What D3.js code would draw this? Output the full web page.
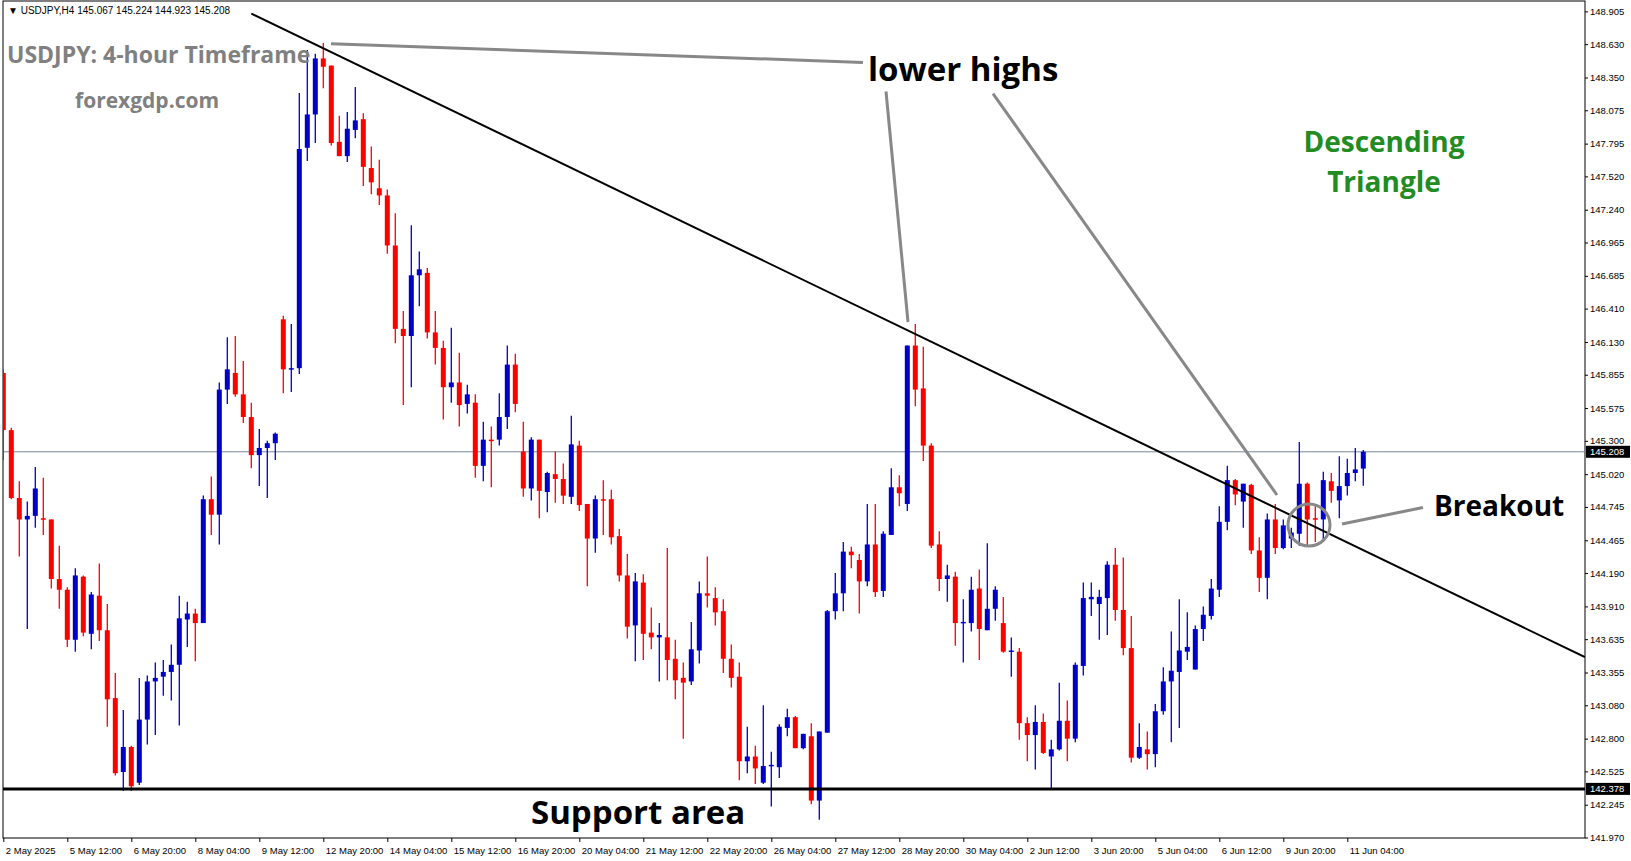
<!DOCTYPE html>
<html><head><meta charset="utf-8">
<script src="https://cdn.jsdelivr.net/npm/d3@7/dist/d3.min.js"></script>
<style>body{margin:0;background:#fff}svg{display:block}</style>
</head><body><svg id="c" width="1631" height="861"></svg>
<script>
const opens=[145.87,145.39,144.82,144.64,144.67,144.65,144.64,144.14,144.05,143.63,144.16,143.68,144.00,143.71,143.14,142.52,142.73,142.43,142.96,143.28,143.32,143.36,143.42,143.80,143.85,143.77,144.81,144.68,145.73,145.87,145.69,145.50,145.18,145.24,145.28,146.32,145.90,145.91,147.76,148.04,148.51,148.45,147.81,147.69,147.91,148.00,147.59,147.42,147.36,146.94,146.24,146.18,146.69,146.71,146.21,146.08,145.75,145.79,145.61,145.62,145.09,145.31,145.31,145.50,145.94,145.21,144.90,145.31,144.87,145.02,144.98,144.83,145.26,144.77,144.48,144.81,144.81,144.50,144.17,143.75,144.11,143.69,143.65,143.65,143.47,143.31,143.28,143.54,144.02,143.98,143.87,143.47,143.32,142.61,142.65,142.43,142.57,142.56,142.89,142.98,142.72,142.82,142.28,142.85,143.87,144.02,144.37,144.30,144.12,144.43,144.04,144.51,144.91,144.77,146.10,145.74,145.26,144.43,144.14,144.16,143.77,143.77,144.06,143.71,143.89,143.77,143.53,143.53,142.93,142.83,142.94,142.65,142.71,142.95,142.80,143.41,143.97,143.93,143.98,144.26,143.88,143.56,142.64,142.71,142.67,143.03,143.28,143.36,143.53,143.38,143.72,143.83,144.05,144.62,144.97,144.79,144.93,144.38,144.15,144.64,144.40,144.48,144.52,144.94,144.65,144.64,144.96,144.80,144.92,145.03,145.067];
const highs=[145.90,145.41,144.96,144.79,145.08,144.99,144.64,144.42,144.07,144.23,144.17,144.03,144.27,143.93,143.35,143.04,142.74,143.31,143.33,143.44,143.46,143.59,144.00,143.95,143.89,144.84,145.00,145.79,146.17,146.18,145.97,145.62,145.40,145.30,145.37,146.35,146.28,148.22,148.58,148.55,148.64,148.45,148.03,148.06,148.27,148.05,147.77,147.66,147.41,147.21,146.39,147.11,146.89,146.75,146.39,146.14,146.25,146.04,145.77,145.69,145.46,145.42,145.70,146.10,146.03,145.46,145.33,145.31,145.04,145.21,145.11,145.51,145.30,144.77,144.84,144.97,144.89,144.56,144.35,144.19,144.18,143.90,143.77,144.40,143.63,143.44,143.78,144.12,144.33,144.07,143.97,143.59,143.44,142.90,142.74,143.08,142.69,142.92,143.05,142.99,142.84,142.93,142.86,143.88,144.19,144.45,144.41,144.35,144.77,144.77,144.54,145.07,145.01,146.10,146.28,146.09,145.28,144.54,144.26,144.20,143.97,144.16,144.22,144.44,144.08,143.99,143.65,143.56,142.98,143.08,143.01,142.79,143.27,143.12,143.44,144.11,144.11,144.05,144.29,144.40,144.32,143.83,142.93,142.86,143.09,143.40,143.70,143.97,143.86,143.75,143.91,144.14,144.75,145.09,144.98,144.94,144.94,144.49,144.69,144.77,144.64,144.57,145.29,144.95,144.75,145.04,145.03,145.17,145.15,145.24,145.224];
const lows=[145.14,144.81,144.33,143.72,144.57,144.51,144.06,143.89,143.57,143.53,143.66,143.55,143.62,142.90,142.49,142.36,142.36,142.41,142.75,142.83,143.16,143.12,142.91,143.57,143.45,143.77,144.51,144.43,145.61,145.67,145.45,145.07,144.92,144.82,145.14,145.70,145.71,145.86,147.65,147.80,148.26,147.78,147.69,147.64,147.84,147.44,147.37,147.28,146.87,146.12,145.60,145.75,146.43,146.16,145.94,145.48,145.62,145.42,145.53,144.99,144.96,144.91,145.26,145.40,145.54,144.83,144.80,144.65,144.70,144.78,144.77,144.77,144.71,144.08,144.36,144.51,144.43,144.12,143.64,143.45,143.46,143.55,143.28,143.29,143.13,142.80,143.25,143.43,143.90,143.75,143.35,143.23,142.45,142.51,142.42,142.42,142.23,142.47,142.82,142.72,142.71,142.25,142.12,142.85,143.80,143.87,144.23,143.85,144.08,143.99,143.99,144.51,144.75,144.71,145.59,145.13,144.40,144.04,143.95,143.58,143.44,143.70,143.46,143.71,143.79,143.52,143.32,142.79,142.61,142.54,142.67,142.38,142.70,142.61,142.77,143.33,143.83,143.63,143.67,143.79,143.50,142.60,142.63,142.54,142.56,143.00,142.77,142.89,143.46,143.38,143.62,143.80,143.99,144.55,144.76,144.57,144.35,144.03,143.97,144.35,144.39,144.40,144.42,144.42,144.45,144.45,144.78,144.65,144.84,144.96,144.923];
const closes=[145.39,144.82,144.64,144.67,144.90,144.64,144.14,144.05,143.63,144.17,143.69,144.01,143.71,143.13,142.51,142.73,142.40,142.96,143.28,143.31,143.36,143.42,143.81,143.85,143.77,144.81,144.68,145.73,145.90,145.69,145.50,145.18,145.24,145.28,145.36,145.90,145.91,147.75,148.04,148.51,148.44,147.80,147.69,147.92,147.99,147.60,147.47,147.36,146.94,146.24,146.18,146.69,146.74,146.21,146.08,145.75,145.79,145.60,145.69,145.09,145.31,145.30,145.50,145.94,145.61,144.90,145.31,144.88,145.03,144.98,144.84,145.27,144.76,144.48,144.81,144.805,144.49,144.17,143.74,144.12,143.68,143.65,143.67,143.46,143.29,143.27,143.55,144.02,144.00,143.86,143.47,143.31,142.61,142.65,142.55,142.57,142.58,142.90,142.98,142.72,142.84,142.28,142.86,143.87,144.02,144.37,144.34,144.12,144.43,144.03,144.52,144.91,144.86,146.10,145.73,145.26,144.42,144.14,144.17,143.77,143.78,144.05,143.72,143.89,144.05,143.53,143.54,142.93,142.83,142.94,142.68,142.71,142.95,142.80,143.42,143.98,143.99,143.99,144.26,143.88,143.56,142.64,142.73,142.67,143.03,143.28,143.37,143.54,143.57,143.72,143.84,144.06,144.62,144.97,144.85,144.94,144.38,144.15,144.64,144.40,144.59,144.53,144.94,144.64,144.64,144.97,144.88,144.92,145.03,145.06,145.208];
const priceTicks=["148.905","148.630","148.350","148.075","147.795","147.520","147.240","146.965","146.685","146.410","146.130","145.855","145.575","145.300","145.020","144.745","144.465","144.190","143.910","143.635","143.355","143.080","142.800","142.525","142.245","141.970"];
const dateLabels=["2 May 2025","5 May 12:00","6 May 20:00","8 May 04:00","9 May 12:00","12 May 20:00","14 May 04:00","15 May 12:00","16 May 20:00","20 May 04:00","21 May 12:00","22 May 20:00","26 May 04:00","27 May 12:00","28 May 20:00","30 May 04:00","2 Jun 12:00","3 Jun 20:00","5 Jun 04:00","6 Jun 12:00","9 Jun 20:00","11 Jun 04:00"];
const currentPrice=145.208, supportPrice=142.378;
const trendLine=[[31,148.887],[197.7,143.484]];

const svg=d3.select("#c");
const L=3,R=1585,T=1,B=838;
const x=d3.scaleLinear().domain([0,170]).range([3.3,1363.3]);
const y=d3.scaleLinear().domain([141.970,148.905]).range([837.5,11.4]);
const idx=d3.range(opens.length);
const F="Liberation Sans, Arial, sans-serif";

svg.append("rect").attr("x",L).attr("y",T).attr("width",R-L).attr("height",B-T).attr("fill","#fff").attr("stroke","#000").attr("stroke-width",1);

const ya=svg.append("g").attr("transform",`translate(${R},0)`)
 .call(d3.axisRight(y).tickValues(priceTicks.map(Number)).tickSize(3).tickFormat((d,i)=>priceTicks[i]));
ya.select(".domain").remove();
ya.selectAll("text").attr("font-family",F).attr("font-size",9.5).attr("fill","#000").attr("x",5);
const xa=svg.append("g").attr("transform",`translate(0,${B})`)
 .call(d3.axisBottom(x).tickValues(dateLabels.map((d,i)=>i*8)).tickSize(4).tickFormat((d,i)=>dateLabels[i]));
xa.select(".domain").remove();
xa.selectAll("text").attr("font-family",F).attr("font-size",9.5).attr("fill","#000").attr("text-anchor","start").attr("x",2).attr("dy","0.9em");

svg.append("clipPath").attr("id","pc").append("rect").attr("x",L).attr("y",T).attr("width",R-L).attr("height",B-T);
const g=svg.append("g").attr("clip-path","url(#pc)");

g.append("line").attr("x1",L).attr("x2",R).attr("y1",y(currentPrice)).attr("y2",y(currentPrice)).attr("stroke","#778899").attr("stroke-width",1);

const col=i=>closes[i]>=opens[i]?"#0000cd":"#ff0000";
g.selectAll(".w").data(idx).join("line").attr("x1",i=>x(i)).attr("x2",i=>x(i))
 .attr("y1",i=>y(highs[i])).attr("y2",i=>y(lows[i])).attr("stroke",col).attr("stroke-width",1.3);
g.selectAll(".b").data(idx).join("rect").attr("x",i=>x(i)-2.5).attr("width",5)
 .attr("y",i=>y(Math.max(opens[i],closes[i])))
 .attr("height",i=>Math.max(1.5,Math.abs(y(opens[i])-y(closes[i])))).attr("fill",col);

g.append("line").attr("x1",L).attr("x2",R).attr("y1",y(supportPrice)).attr("y2",y(supportPrice)).attr("stroke","#000").attr("stroke-width",3);
g.append("line").attr("x1",x(trendLine[0][0])).attr("y1",y(trendLine[0][1])).attr("x2",x(trendLine[1][0])).attr("y2",y(trendLine[1][1])).attr("stroke","#000").attr("stroke-width",2);

const ann=[[331,43.7,863,62.4],[886,91.5,908,322],[993,93.6,1277,495],[1342,524,1423,507.5]];
ann.forEach(a=>g.append("line").attr("x1",a[0]).attr("y1",a[1]).attr("x2",a[2]).attr("y2",a[3]).attr("stroke","#888").attr("stroke-width",3));
g.append("circle").attr("cx",1309).attr("cy",525).attr("r",21).attr("fill","none").attr("stroke","#888").attr("stroke-width",3);

[[currentPrice,"145.208"],[supportPrice,"142.378"]].forEach(p=>{
 svg.append("rect").attr("x",R+1).attr("y",y(p[0])-6).attr("width",44).attr("height",12).attr("fill","#000");
 svg.append("text").attr("x",R+5).attr("y",y(p[0])+3.5).attr("font-family",F).attr("font-size",9.5).attr("fill","#fff").text(p[1]);
});

const txt=(t,xx,yy,s,c,w,a)=>svg.append("text").attr("x",xx).attr("y",yy).attr("font-family","Open Sans, sans-serif").attr("font-size",s).attr("font-weight",w||"bold").attr("fill",c).attr("text-anchor",a||"start").text(t);
svg.append("text").attr("x",8).attr("y",14).attr("font-family",F).attr("font-size",10).text("▼  USDJPY,H4  145.067 145.224 144.923 145.208");
txt("USDJPY: 4-hour Timeframe",7,63,23,"#808080");
txt("forexgdp.com",75,108,21,"#808080");
txt("lower highs",868,81,33,"#000");
txt("Descending",1384,152,28,"#228b22","bold","middle");
txt("Triangle",1384,192,28,"#228b22","bold","middle");
txt("Breakout",1434,516,28,"#000");
txt("Support area",531,824,33,"#000");
</script></body></html>
